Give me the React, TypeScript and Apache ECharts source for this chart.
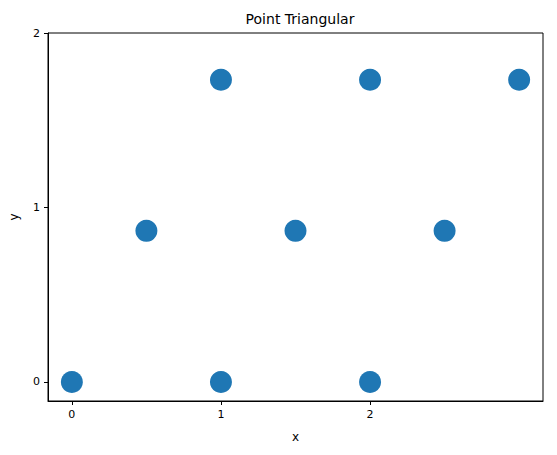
import React, { useEffect, useRef } from 'react'
import * as echarts from 'echarts'

const xValues = [0, 1, 2, 0.5, 1.5, 2.5, 1, 2, 3]
const yValues = [0, 0, 0, 0.866, 0.866, 0.866, 1.732, 1.732, 1.732]
const xTicks = [0, 1, 2]
const yTicks = [0, 1, 2]

const App: React.FC = () => {
  const chartRef = useRef<HTMLDivElement>(null)

  useEffect(() => {
    if (!chartRef.current) return
    const chart = echarts.init(chartRef.current, undefined, { renderer: 'svg' })
    const font = 'DejaVu Sans'
    chart.setOption({
      animation: false,
      title: {
        text: 'Point Triangular',
        left: 295,
        textAlign: 'center',
        top: 7,
        textStyle: { fontFamily: font, fontSize: 14, fontWeight: 'normal', color: '#000' }
      },
      grid: {
        left: 48, right: 14, top: 33, bottom: 54,
        show: true, borderColor: '#000', borderWidth: 1, backgroundColor: '#fff'
      },
      xAxis: {
        type: 'value',
        min: -0.16,
        max: 3.16,
        name: 'x',
        nameLocation: 'middle',
        nameGap: 30,
        nameTextStyle: { fontFamily: font, fontSize: 12, color: '#000' },
        splitLine: { show: false },
        axisLine: { show: true, onZero: false, lineStyle: { color: '#000' } },
        axisTick: { show: true, customValues: xTicks, length: 4, lineStyle: { color: '#000' } },
        axisLabel: { customValues: xTicks, fontFamily: font, fontSize: 11, color: '#000' }
      },
      yAxis: {
        type: 'value',
        min: -0.109,
        max: 2,
        name: 'y',
        nameLocation: 'middle',
        nameGap: 28,
        nameTextStyle: { fontFamily: font, fontSize: 12, color: '#000' },
        splitLine: { show: false },
        axisLine: { show: true, onZero: false, lineStyle: { color: '#000' } },
        axisTick: { show: true, customValues: yTicks, length: 4, lineStyle: { color: '#000' } },
        axisLabel: { customValues: yTicks, fontFamily: font, fontSize: 11, color: '#000' }
      },
      series: [
        {
          type: 'scatter',
          symbolSize: 22,
          itemStyle: { color: '#1f77b4', opacity: 1 },
          data: xValues.map((x, i) => [x, yValues[i]])
        }
      ]
    })
    return () => chart.dispose()
  }, [])

  return <div ref={chartRef} style={{ width: 557, height: 455, margin: -8 }} />
}

export default App
